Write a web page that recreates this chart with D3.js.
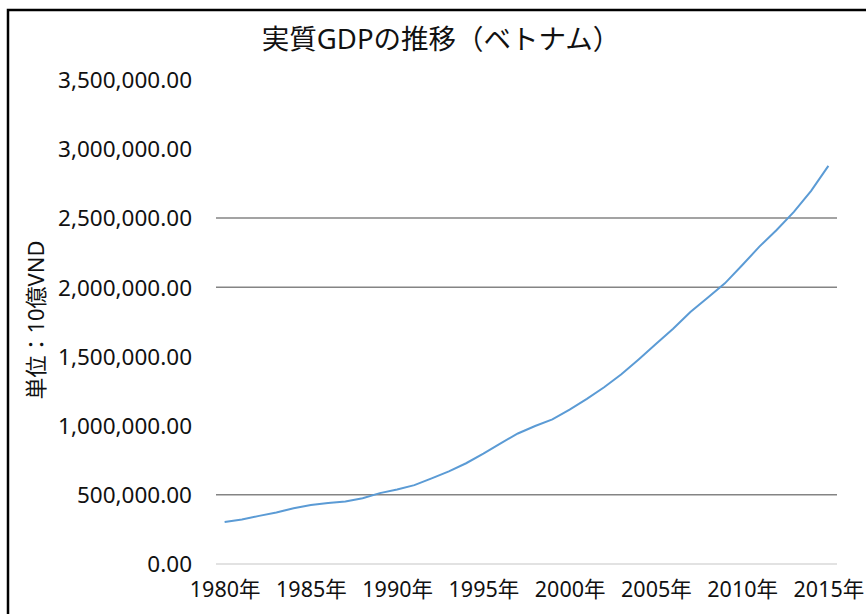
<!DOCTYPE html>
<html>
<head>
<meta charset="utf-8">
<script src="https://cdn.jsdelivr.net/npm/d3@7"></script>
<style>
  body { margin: 0; background: #fff; }
  svg { display: block; }
  text { font-family: "Noto Sans", "Noto Sans CJK JP", sans-serif; fill: #111; }
</style>
</head>
<body>
<svg id="chart" width="866" height="614"></svg>
<script>
// real GDP, billion VND
var years = d3.range(1980, 2016);
var gdp = [303800, 321400, 347600, 372200, 403400, 426200, 440700, 451900, 475100, 512100,
           538200, 569500, 618800, 668800, 727900, 797300, 871800, 942900, 997200, 1044800,
           1115700, 1192600, 1277000, 1370400, 1477100, 1588600, 1699500, 1820700, 1923700, 2027600,
           2157800, 2292500, 2412900, 2543684, 2695796, 2875856];
var yTicks = [0, 500000, 1000000, 1500000, 2000000, 2500000, 3000000, 3500000];
var gridDark = [500000, 2000000, 2500000];  // the only gridlines visible in the picture
var xLabelYears = [1980, 1985, 1990, 1995, 2000, 2005, 2010, 2015];
var title = "実質GDPの推移（ベトナム）";
var yTitle = "単位：10億VND";

var points = years.map((yr, i) => ({year: yr, value: gdp[i]}));

var plotLeft = 216, plotRight = 837, plotTop = 79.5, plotBottom = 564;

var svg = d3.select('#chart');

// frame (right/bottom edges fall outside the picture)
svg.append('rect')
  .attr('x', 8).attr('y', 10)
  .attr('width', 900).attr('height', 700)
  .attr('fill', 'none').attr('stroke', '#000').attr('stroke-width', 2.5);

var x = d3.scalePoint()
  .domain(years)
  .range([plotLeft, plotRight])
  .padding(0.5);

var y = d3.scaleLinear()
  .domain([0, 3500000])
  .range([plotBottom, plotTop]);

// gridlines
svg.append('line')
  .attr('x1', plotLeft).attr('x2', plotRight)
  .attr('y1', y(0)).attr('y2', y(0))
  .attr('stroke', '#d9d9d9').attr('stroke-width', 1.5);

svg.selectAll('.grid')
  .data(gridDark)
  .enter().append('line')
    .attr('class', 'grid')
    .attr('x1', plotLeft).attr('x2', plotRight)
    .attr('y1', d => y(d)).attr('y2', d => y(d))
    .attr('stroke', '#848484').attr('stroke-width', 1.5);

// y axis
var yAxis = svg.append('g')
  .attr('transform', `translate(${plotLeft - 24},0)`)
  .call(d3.axisLeft(y).tickValues(yTicks).tickFormat(d3.format(',.2f')).tickSize(0).tickPadding(0));
yAxis.select('.domain').remove();
yAxis.selectAll('text')
  .attr('font-size', 22.5)
  .attr('font-family', '"Noto Sans", sans-serif')
  .attr('dy', '0.35em')
  .attr('fill', '#111');

// x axis
var xAxis = svg.append('g')
  .attr('transform', `translate(0,${plotBottom})`)
  .call(d3.axisBottom(x).tickValues(xLabelYears).tickFormat(d => d + '年').tickSize(0).tickPadding(0));
xAxis.select('.domain').remove();
xAxis.selectAll('text')
  .attr('font-size', 21.5)
  .attr('font-family', '"Noto Sans", "Noto Sans CJK JP", sans-serif')
  .attr('dy', '1.55em')
  .attr('fill', '#111');

// line
var line = d3.line()
  .x(d => x(d.year))
  .y(d => y(d.value));

svg.append('path')
  .datum(points)
  .attr('d', line)
  .attr('fill', 'none')
  .attr('stroke', '#5b9bd5')
  .attr('stroke-width', 2);

// titles
svg.append('text')
  .attr('x', 441).attr('y', 49)
  .attr('text-anchor', 'middle')
  .attr('font-size', 27.5)
  .text(title);

svg.append('text')
  .attr('transform', 'translate(44,320) rotate(-90)')
  .attr('text-anchor', 'middle')
  .attr('font-size', 22)
  .text(yTitle);
</script>
</body>
</html>
